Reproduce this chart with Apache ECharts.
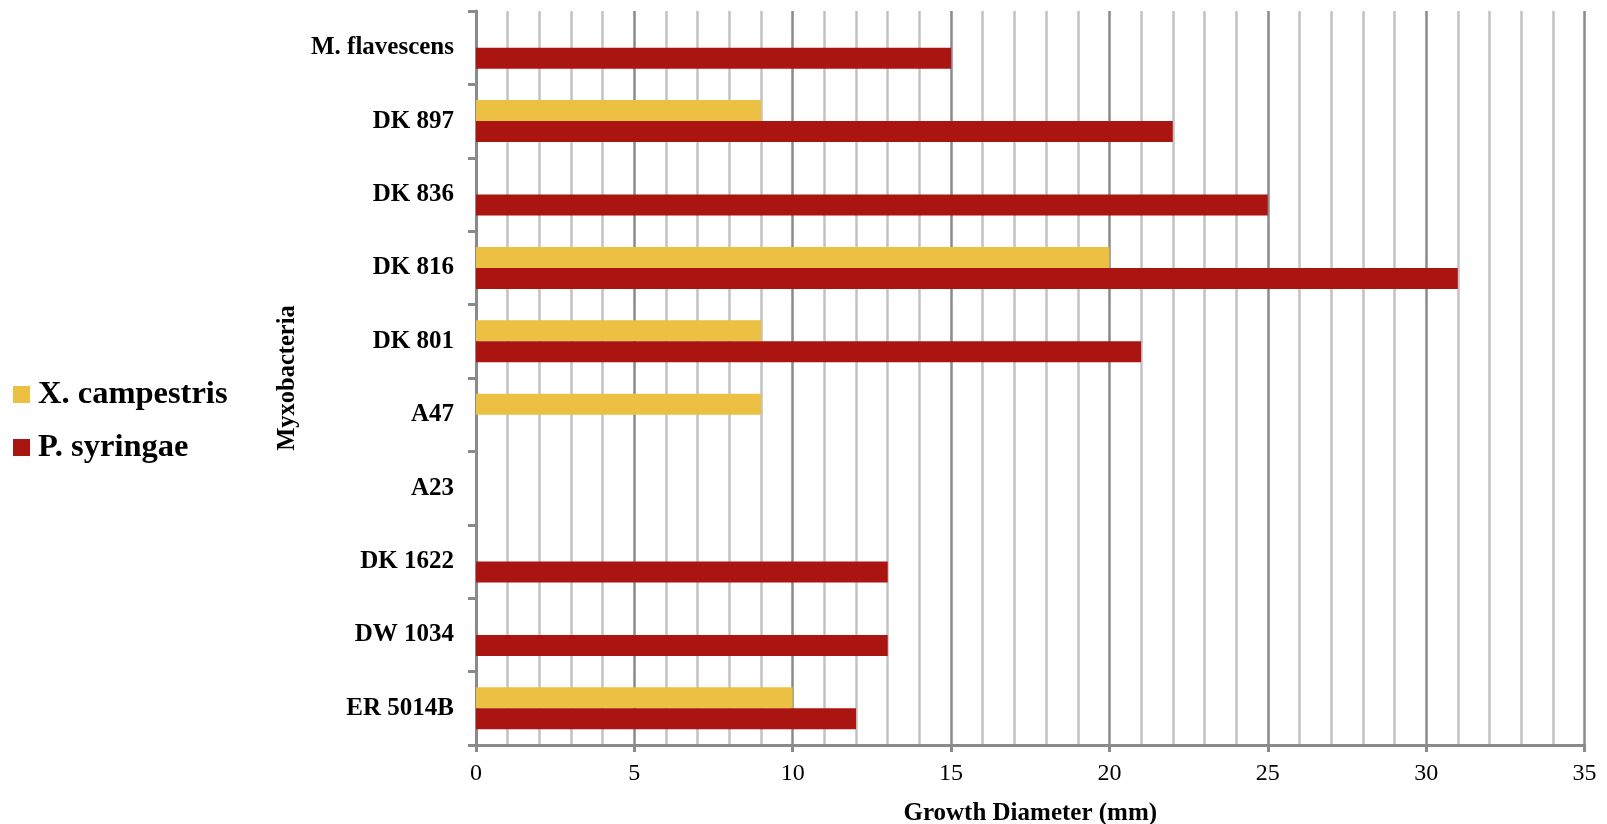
<!DOCTYPE html>
<html>
<head>
<meta charset="utf-8">
<script src="https://cdn.jsdelivr.net/npm/echarts@6/dist/echarts.min.js"></script>
<style>
html,body{margin:0;padding:0;background:#fff;}
#chart{width:1607px;height:824px;}
</style>
</head>
<body>
<div id="chart"></div>
<script>
// Categories listed bottom to top
var categories = ['ER 5014B', 'DW 1034', 'DK 1622', 'A23', 'A47', 'DK 801', 'DK 816', 'DK 836', 'DK 897', 'M. flavescens'];
var xCampestris = [10, null, null, null, 9, 9, 20, null, 9, null];
var pSyringae = [12, 13, 13, null, null, 21, 31, 25, 22, 15];
var xTicks = [0, 5, 10, 15, 20, 25, 30, 35];

var FONT = '"Liberation Serif", "DejaVu Serif", serif';
var chart = echarts.init(document.getElementById('chart'));
chart.setOption({
  animation: false,
  backgroundColor: '#ffffff',
  legend: {
    orient: 'vertical',
    left: 13,
    top: 377,
    padding: 0,
    itemWidth: 17,
    itemHeight: 17,
    itemGap: 18,
    icon: 'rect',
    data: ['X. campestris', 'P. syringae'],
    textStyle: { fontFamily: FONT, fontWeight: 'bold', fontSize: 32.5, color: '#000', lineHeight: 35, padding: [0, 0, 0, 3] }
  },
  grid: { left: 476, right: 22.5, top: 11, bottom: 79, containLabel: false, outerBoundsMode: 'none' },
  xAxis: {
    type: 'value',
    min: xTicks[0],
    max: xTicks[xTicks.length - 1],
    interval: 5,
    name: 'Growth Diameter (mm)',
    nameLocation: 'middle',
    nameGap: 56,
    nameTextStyle: { fontFamily: FONT, fontWeight: 'bold', fontSize: 25, color: '#000' },
    axisLine: { show: true, lineStyle: { color: '#8a8a8a', width: 3 } },
    axisTick: { show: true, length: 7, lineStyle: { color: '#8a8a8a', width: 3 } },
    axisLabel: { fontFamily: FONT, fontSize: 24, color: '#000', margin: 17 },
    splitLine: { show: true, lineStyle: { color: '#8a8a8a', width: 2.5 } },
    minorTick: { show: false, splitNumber: 5 },
    minorSplitLine: { show: true, lineStyle: { color: '#c2c2c2', width: 2.5 } }
  },
  yAxis: {
    type: 'category',
    data: categories,
    name: 'Myxobacteria',
    nameLocation: 'middle',
    nameGap: 168,
    nameRotate: 90,
    nameTextStyle: { fontFamily: FONT, fontWeight: 'bold', fontSize: 24.5, color: '#000' },
    axisLine: { show: true, lineStyle: { color: '#8a8a8a', width: 3 } },
    axisTick: { show: true, length: 8, lineStyle: { color: '#8a8a8a', width: 3 } },
    axisLabel: { fontFamily: FONT, fontWeight: 'bold', fontSize: 25, color: '#000', margin: 22 },
    splitLine: { show: false }
  },
  series: [
    {
      name: 'X. campestris',
      type: 'bar',
      data: xCampestris,
      barWidth: 21,
      barGap: '0%',
      itemStyle: { color: '#ebc043' }
    },
    {
      name: 'P. syringae',
      type: 'bar',
      data: pSyringae,
      barWidth: 21,
      barGap: '0%',
      itemStyle: { color: '#ab1511' }
    }
  ]
});
</script>
</body>
</html>
